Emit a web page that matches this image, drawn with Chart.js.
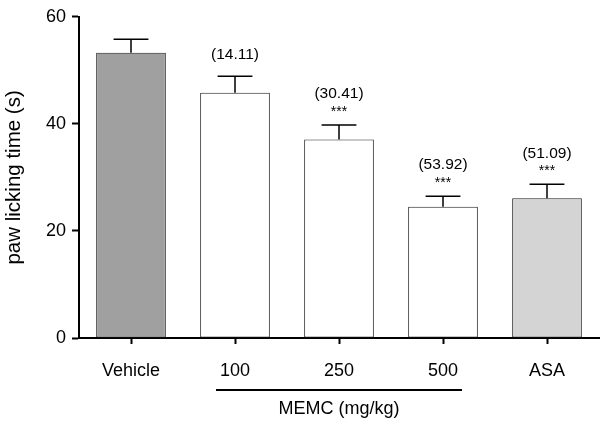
<!DOCTYPE html>
<html>
<head>
<meta charset="utf-8">
<script src="https://cdn.jsdelivr.net/npm/chart.js@4/dist/chart.umd.min.js"></script>
<style>
  html, body { margin: 0; padding: 0; background: #fff; }
  #wrap { width: 600px; height: 421px; position: relative; }
</style>
</head>
<body>
<div id="wrap"><canvas id="c" width="600" height="421"></canvas></div>
<script>
const categories = ["Vehicle", "100", "250", "500", "ASA"];
const meanValues = [53.3, 45.8, 37.1, 24.5, 26.1];
const semValues = [2.5, 3.1, 2.7, 2.0, 2.6];
const inhibitionLabels = ["", "(14.11)", "(30.41)", "(53.92)", "(51.09)"];
const significanceLabels = ["", "", "***", "***", "***"];
const yTicks = [0, 20, 40, 60];
const barColors = ["#a0a0a0", "#ffffff", "#ffffff", "#ffffff", "#d4d4d4"];
const groupLabel = "MEMC (mg/kg)";
const groupRange = [1, 3];

const FONT = "'Liberation Sans', Arial, Helvetica, sans-serif";

const annotPlugin = {
  id: 'annot',
  afterDatasetsDraw(chart) {
    const ctx = chart.ctx;
    const xs = chart.scales.x, ys = chart.scales.y;
    const meta = chart.getDatasetMeta(0);
    ctx.save();
    meanValues.forEach((v, i) => {
      const x = xs.getPixelForValue(i);
      const yTop = ys.getPixelForValue(v);
      const yCap = ys.getPixelForValue(v + semValues[i]);
      const bw = meta.data[i].width;
      ctx.strokeStyle = '#000';
      ctx.lineWidth = 1.5;
      ctx.beginPath();
      ctx.moveTo(x, yTop);
      ctx.lineTo(x, yCap);
      ctx.moveTo(x - bw / 4, yCap);
      ctx.lineTo(x + bw / 4, yCap);
      ctx.stroke();
      ctx.fillStyle = '#000';
      ctx.textAlign = 'center';
      ctx.textBaseline = 'middle';
      if (significanceLabels[i]) {
        ctx.font = "14px " + FONT;
        ctx.fillText(significanceLabels[i], x, yCap - 13);
        ctx.font = "15.5px " + FONT;
        ctx.fillText(inhibitionLabels[i], x, yCap - 31);
      } else if (inhibitionLabels[i]) {
        ctx.font = "15.5px " + FONT;
        ctx.fillText(inhibitionLabels[i], x, yCap - 22);
      }
    });
    // group line
    const x1 = xs.getPixelForValue(groupRange[0]) - 19;
    const x2 = xs.getPixelForValue(groupRange[1]) + 19;
    const yLine = xs.bottom - 31;
    ctx.lineWidth = 2;
    ctx.beginPath();
    ctx.moveTo(x1, yLine);
    ctx.lineTo(x2, yLine);
    ctx.stroke();
    ctx.font = "18px " + FONT;
    ctx.fillText(groupLabel, (x1 + x2) / 2, yLine + 19);
    ctx.restore();
  }
};

new Chart(document.getElementById('c'), {
  type: 'bar',
  data: {
    labels: categories,
    datasets: [{
      data: meanValues,
      backgroundColor: barColors,
      borderColor: '#222',
      borderWidth: 1,
      borderSkipped: false,
      barPercentage: 0.67,
      categoryPercentage: 1.0
    }]
  },
  options: {
    responsive: false,
    animation: false,
    devicePixelRatio: 1,
    layout: { padding: { top: 10, right: 1, left: 0, bottom: 0 } },
    plugins: { legend: { display: false }, tooltip: { enabled: false } },
    scales: {
      x: {
        grid: { display: true, drawOnChartArea: false, offset: false, tickLength: 6, tickWidth: 2, tickColor: '#000' },
        border: { display: true, color: '#000', width: 2 },
        ticks: { color: '#000', font: { family: FONT, size: 18 }, padding: 16, maxRotation: 0 },
        afterFit(s) { s.height = 83; }
      },
      y: {
        min: 0, max: 60,
        afterBuildTicks(s) { s.ticks = yTicks.map(v => ({ value: v })); },
        grid: { display: true, drawOnChartArea: false, tickLength: 7, tickWidth: 2, tickColor: '#000' },
        border: { display: true, color: '#000', width: 2 },
        ticks: { color: '#000', font: { family: FONT, size: 18 }, padding: 6 },
        title: { display: true, text: 'paw licking time (s)', color: '#000', font: { family: FONT, size: 20.5 }, padding: { top: 2, bottom: 8 } },
        afterFit(s) { s.width = 79; }
      }
    }
  },
  plugins: [annotPlugin]
});
</script>
</body>
</html>
